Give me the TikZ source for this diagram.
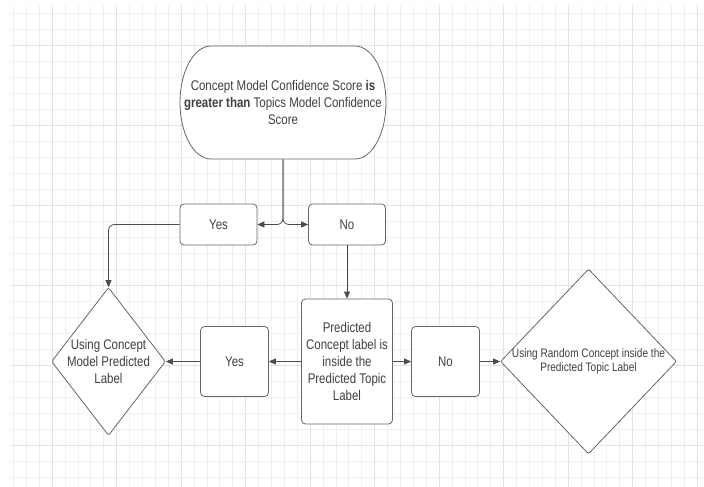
\documentclass[tikz,border=0pt]{standalone}
\usepackage{fontspec}
\setmainfont[FakeStretch=0.82]{Liberation Sans}
\usetikzlibrary{shapes.geometric,arrows.meta}

\begin{document}
\begin{tikzpicture}[x=1pt, y=-1pt,
  gridline/.style = {draw=black!6, line width=0.5pt},
  gridmajor/.style = {draw=black!11, line width=0.6pt},
  main/.style = {draw=black!60, line width=0.8pt, fill=white, text=black!75, align=center, font=\fontsize{14}{17}\selectfont},
  box/.style = {main, rectangle, rounded corners=4pt, minimum width=77pt, minimum height=41pt, inner sep=0pt},
  sqbox/.style = {box, minimum width=68pt, minimum height=70pt},
  tallbox/.style = {box, minimum width=91pt, minimum height=125pt},
  choice/.style = {main, diamond, rounded corners=2pt, inner sep=-2pt},
  link/.style = {draw=black!70, line width=0.8pt, rounded corners=6pt, -{Triangle[length=7pt,width=6pt]}}]
		\useasboundingbox[fill=white] (0,0) rectangle (704,487);
		% grid paper
		\foreach \gx in {13.3,26.2,...,704} \draw[gridline] (\gx,5) -- (\gx,487);
		\foreach \gy in {13,29,...,487} \draw[gridline] (10,\gy) -- (704,\gy);
		\foreach \gx in {52,116.5,...,704} \draw[gridmajor] (\gx,5) -- (\gx,487);
		\foreach \gy in {45,125,...,487} \draw[gridmajor] (10,\gy) -- (704,\gy);
		% terminator outline
		\draw[draw=black!60, line width=0.8pt, fill=white] (211,46) -- (355,46)
			arc[start angle=90, end angle=-90, x radius=31pt, y radius=56.5pt] -- (211,159)
			arc[start angle=270, end angle=90, x radius=31pt, y radius=56.5pt] -- cycle;
		\node[main, draw=none, fill=none, minimum width=206pt, minimum height=113pt] (start) at (283,102.5) {Concept Model Confidence Score \textbf{is}\\ \textbf{greater than} Topics Model Confidence\\ Score};
		\node[box] (yes1) at (218.5,224.5) {Yes};
		\node[box] (no1) at (347,224.5) {No};
		\node[tallbox] (pred) [below of=no1, node distance=137pt] {Predicted\\ Concept label is\\ inside the\\ Predicted Topic\\ Label};
		\node[sqbox] (yes2) [left of=pred, node distance=112.5pt] {Yes};
		\node[sqbox] (no2) [right of=pred, node distance=98.5pt] {No};
		\node[choice, aspect=0.77, minimum width=114pt, minimum height=148pt] (usecm) [left of=yes2, node distance=126pt] {Using Concept\\ Model Predicted\\ Label};
		\node[choice, aspect=0.95, minimum width=176pt, minimum height=185pt, font=\fontsize{12.3}{14.5}\selectfont] (userand) [right of=no2, node distance=143pt] {Using Random Concept inside the\\ Predicted Topic Label};
		\draw[link] (start.south) |- (yes1.east);
		\draw[link] (start.south) |- (no1.west);
		\draw[link] (yes1.west) -| (usecm.north);
		\draw[link] (no1.south) -- (pred.north);
		\draw[link] (pred.west) -- (yes2.east);
		\draw[link] (yes2.west) -- (usecm.east);
		\draw[link] (pred.east) -- (no2.west);
		\draw[link] (no2.east) -- (userand.west);
	\end{tikzpicture}
\end{document}
